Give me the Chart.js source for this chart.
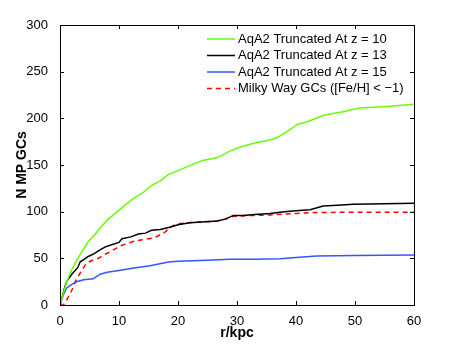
<!DOCTYPE html>
<html>
<head>
<meta charset="utf-8">
<script src="https://cdn.jsdelivr.net/npm/chart.js@4"></script>
<style>
  body { margin: 0; background: #fff; }
  #wrap { width: 458px; height: 344px; }
</style>
</head>
<body>
<div id="wrap"><canvas id="myChart" width="458" height="344"></canvas></div>
<script>
'use strict'

// radius (kpc) and cumulative counts
let greenR = [0, 1, 1.7, 2.5, 3.5, 4.8, 6, 7, 8.2, 9.5, 11, 12.4, 14, 15.5, 17, 18.4, 20, 21.5, 23, 24.3, 26, 27.1, 28.5, 30, 31.5, 33.3, 35, 36.7, 38, 39, 40.4, 41.8, 43, 44.6, 46, 48, 49.2, 50.8, 53, 55.9, 58, 60];
let greenN = [0, 22, 34, 44, 55, 68, 76, 84, 92, 99, 107, 114, 120, 128, 133, 140, 144, 148, 152, 155, 157, 159, 164, 168, 171, 174, 176, 179, 184, 188, 194, 196, 199, 203, 205, 207, 209, 211, 212, 213, 214, 215];

let blackR = [0, 0.85, 1.2, 2, 3, 3.4, 4.8, 5.8, 6.8, 7.6, 8.5, 10, 10.5, 12, 13.3, 14.5, 15.5, 17, 18.4, 19.5, 20, 22, 24, 26.6, 28, 29.4, 31, 33, 35.6, 38, 40, 42.4, 44.6, 47, 49.7, 55, 60];
let blackN = [0, 20, 26, 33, 40, 46, 52, 55, 59, 62, 64, 67, 71, 73, 76, 77, 80, 81, 83, 85, 86, 88, 89, 90, 92, 96, 96, 97, 98, 100, 101, 102, 106, 107, 108, 108.5, 109];

let blueR = [0, 0.5, 1.1, 2, 2.8, 4, 5.6, 6.8, 8, 10, 12, 15.25, 18.4, 20, 25, 28.8, 33, 37.3, 40, 43.5, 50, 60];
let blueN = [0, 10, 18, 22, 25, 27, 28, 33, 35, 37, 39, 42, 46, 47, 48, 49, 49, 49.5, 51, 52.5, 53, 53.6];

let mwR = [0, 0.6, 1.1, 1.8, 2.3, 2.8, 3.4, 4, 4.5, 5.5, 6.5, 7.5, 8.2, 9.6, 10.5, 12.4, 14, 16, 16.9, 17.8, 18.6, 19.8, 21.5, 24, 26.6, 28, 29.4, 33, 35.6, 40, 42.4, 50, 60];
let mwN = [0, 0, 5, 13, 20, 28, 34, 40, 45, 48, 50, 54, 56, 61, 64, 68, 70, 72, 75, 78, 83, 87, 88, 89, 90, 92, 95, 96, 96.5, 98, 99, 99.5, 99.5];

let seriesLabels = ['AqA2 Truncated At z = 10', 'AqA2 Truncated At z = 13', 'AqA2 Truncated At z = 15', 'Milky Way GCs ([Fe/H] < \u22121)'];
let xTicks = [0, 10, 20, 30, 40, 50, 60];
let yTicks = [0, 50, 100, 150, 200, 250, 300];

function toPoints(xs, ys) {
    let pts = [];
    for (let i = 0; i < xs.length; i++) {
        pts.push({ x: xs[i], y: ys[i] });
    }
    return pts;
}

let fontFam = '"Liberation Sans", Arial, sans-serif';

// box round the axes with inward ticks on all four sides, matlab style
let boxPlugin = {
    id: 'box',
    afterDatasetsDraw(chart) {
        let ctx = chart.ctx;
        let a = chart.chartArea;
        let xs = chart.scales.x;
        let ys = chart.scales.y;
        ctx.save();
        ctx.strokeStyle = '#000';
        ctx.lineWidth = 1;
        ctx.strokeRect(a.left + 0.5, a.top + 0.5, a.right - a.left, a.bottom - a.top);
        ctx.beginPath();
        for (let v of xTicks) {
            let px = Math.round(xs.getPixelForValue(v)) + 0.5;
            ctx.moveTo(px, a.bottom); ctx.lineTo(px, a.bottom - 4);
            ctx.moveTo(px, a.top); ctx.lineTo(px, a.top + 4);
        }
        for (let v of yTicks) {
            let py = Math.round(ys.getPixelForValue(v)) + 0.5;
            ctx.moveTo(a.left, py); ctx.lineTo(a.left + 4, py);
            ctx.moveTo(a.right, py); ctx.lineTo(a.right - 4, py);
        }
        ctx.stroke();
        ctx.restore();
    }
};

// legend drawn inside the upper right corner
let legendPlugin = {
    id: 'innerLegend',
    afterDraw(chart) {
        let ctx = chart.ctx;
        let a = chart.chartArea;
        ctx.save();
        ctx.font = '13px ' + fontFam;
        ctx.textBaseline = 'middle';
        ctx.fillStyle = '#000';
        let x0 = a.right - 207;
        for (let i = 0; i < chart.data.datasets.length; i++) {
            let ds = chart.data.datasets[i];
            let y = a.top + 14 + i * 16.5;
            ctx.strokeStyle = ds.borderColor;
            ctx.lineWidth = ds.borderWidth;
            ctx.setLineDash(ds.borderDash || []);
            ctx.beginPath();
            ctx.moveTo(x0, y); ctx.lineTo(x0 + 28, y);
            ctx.stroke();
            ctx.setLineDash([]);
            ctx.fillText(ds.label, x0 + 31, y);
        }
        ctx.restore();
    }
};

let ctx = document.getElementById('myChart').getContext('2d');
let myChart = new Chart(ctx, {
    type: 'line',
    data: {
        datasets: [{
            label: seriesLabels[0],
            data: toPoints(greenR, greenN),
            borderColor: '#66ff00',
            borderWidth: 1.5
        }, {
            label: seriesLabels[1],
            data: toPoints(blackR, blackN),
            borderColor: '#000000',
            borderWidth: 1.5
        }, {
            label: seriesLabels[2],
            data: toPoints(blueR, blueN),
            borderColor: '#3355ff',
            borderWidth: 1.5
        }, {
            label: seriesLabels[3],
            data: toPoints(mwR, mwN),
            borderColor: '#ff0000',
            borderWidth: 1.5,
            borderDash: [5, 4]
        }]
    },
    options: {
        responsive: false,
        animation: false,
        elements: { point: { radius: 0 }, line: { tension: 0 } },
        layout: { padding: { top: 25, right: 44, left: 0, bottom: 0 } },
        plugins: { legend: { display: false }, tooltip: { enabled: false } },
        scales: {
            x: {
                type: 'linear',
                min: 0,
                max: 60,
                afterBuildTicks: (s) => { s.ticks = xTicks.map(v => ({ value: v })); },
                afterFit: (s) => { s.height = 39; },
                grid: { display: false },
                border: { display: false },
                ticks: { color: '#000', font: { size: 13, family: fontFam }, padding: 1, maxRotation: 0 },
                title: { display: true, text: 'r/kpc', color: '#000', font: { size: 14, weight: 'bold', family: fontFam }, padding: { top: 2, bottom: 2 } }
            },
            y: {
                min: 0,
                max: 300,
                afterBuildTicks: (s) => { s.ticks = yTicks.map(v => ({ value: v })); },
                afterFit: (s) => { s.width = 60; },
                grid: { display: false },
                border: { display: false },
                ticks: { color: '#000', font: { size: 13, family: fontFam }, padding: 4 },
                title: { display: true, text: 'N MP GCs', color: '#000', font: { size: 14, weight: 'bold', family: fontFam }, padding: { top: 14, bottom: 2 } }
            }
        }
    },
    plugins: [boxPlugin, legendPlugin]
});
</script>
</body>
</html>
